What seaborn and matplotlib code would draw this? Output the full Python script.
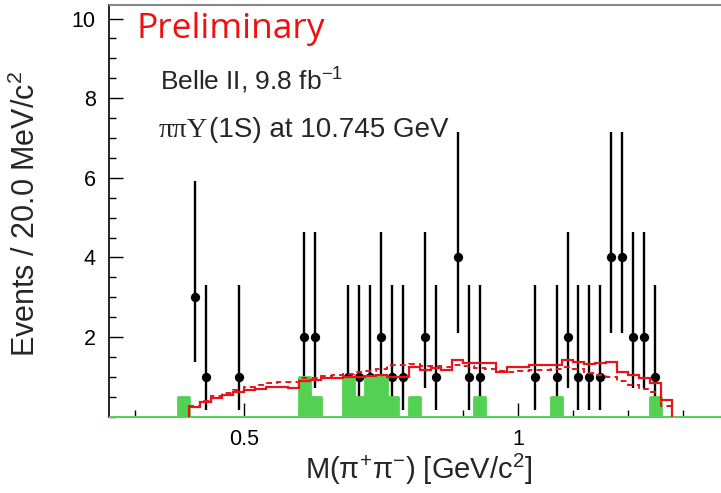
import numpy as np
import pandas as pd
import matplotlib
matplotlib.use("Agg")
import matplotlib.pyplot as plt
from matplotlib.ticker import MultipleLocator, FixedLocator, FixedFormatter
import seaborn as sns

# ---------------- data ----------------
BIN_W = 0.02
# data points: bin centres [GeV/c^2] and counts
pt_x = [0.41, 0.43, 0.49, 0.61, 0.63, 0.69, 0.71, 0.73, 0.75, 0.77, 0.79,
        0.83, 0.85, 0.89, 0.91, 0.93, 1.03, 1.07, 1.09, 1.11, 1.13, 1.15,
        1.17, 1.19, 1.21, 1.23, 1.25]
pt_n = [3, 1, 1, 2, 2, 1, 1, 1, 2, 1, 1,
        2, 1, 4, 1, 1, 1, 1, 2, 1, 1, 1,
        4, 4, 2, 2, 1]
# asymmetric Poisson intervals, per count
err_lo_by_n = {1: 0.83, 2: 1.29, 3: 1.63, 4: 1.91}
err_hi_by_n = {1: 2.30, 2: 2.64, 3: 2.92, 4: 3.16}

# green (sideband) histogram: bin centres and contents
green_x = [0.39, 0.61, 0.63, 0.69, 0.71, 0.73, 0.75, 0.77, 0.81, 0.93, 1.07, 1.25]
green_v = [0.5, 1.0, 0.5, 1.0, 0.5, 1.0, 1.0, 0.5, 0.5, 0.5, 0.5, 0.5]
green_range = (0.24, 1.40)

# red curves: 44 bins from 0.40 to 1.28
red_start = 0.40
red_solid = [0.24, 0.37, 0.47, 0.55, 0.61, 0.66, 0.70, 0.74, 0.75, 0.72,
             0.90, 0.93, 0.96, 0.98, 0.99, 1.00, 1.02, 1.04, 1.00, 1.00,
             1.26, 1.17, 1.23, 1.17, 1.42, 1.34, 1.34, 1.34, 1.13, 1.26,
             1.26, 1.30, 1.30, 1.30, 1.42, 1.38, 1.32, 1.34, 1.38, 1.13,
             1.05, 0.97, 0.84, 0.42]
red_dash = [0.26, 0.40, 0.52, 0.60, 0.67, 0.74, 0.80, 0.84, 0.87, 0.86,
            0.96, 0.98, 1.02, 1.05, 1.08, 1.12, 1.16, 1.20, 1.30, 1.30,
            1.33, 1.28, 1.28, 1.25, 1.30, 1.28, 1.22, 1.20, 1.15, 1.12,
            1.15, 1.17, 1.17, 1.20, 1.24, 1.20, 1.10, 1.05, 1.00, 0.90,
            0.80, 0.70, 0.62, 0.28]

x_major = [0.5, 1.0]
x_major_labels = ["0.5", "1"]
y_major = [2, 4, 6, 8, 10]
y_major_labels = ["2", "4", "6", "8", "10"]

# ---------------- figure ----------------
W, H = 721, 493
sns.set_theme(style="white")
plt.rcParams["font.family"] = ["Liberation Sans", "DejaVu Sans"]
plt.rcParams["mathtext.fontset"] = "custom"
plt.rcParams["mathtext.rm"] = "Liberation Sans"
plt.rcParams["mathtext.it"] = "Liberation Sans"
plt.rcParams["mathtext.sf"] = "Liberation Sans"

fig = plt.figure(figsize=(W / 100, H / 100), dpi=100)
fig.patch.set_facecolor("white")
ax = fig.add_axes([109.5 / W, (H - 416.7) / H, 1 - 109.5 / W, (416.7 - 5) / H])
ax.set_facecolor("white")

# data points with error bars
n_arr = np.array(pt_n)
lo = np.array([err_lo_by_n[n] for n in pt_n])
hi = np.array([err_hi_by_n[n] for n in pt_n])
ax.errorbar(pt_x, n_arr, yerr=[lo, hi], fmt="none", ecolor="black",
            elinewidth=1.7, capsize=0, zorder=2)
sns.scatterplot(x=pt_x, y=pt_n, ax=ax, color="black", s=45, edgecolor="black",
                linewidth=0, zorder=2.5, legend=False)

# green histogram (full range, zeros elsewhere)
g_edges = np.round(np.arange(green_range[0], green_range[1] + 1e-9, BIN_W), 4)
g_centres = g_edges[:-1] + BIN_W / 2
g_vals = np.zeros(len(g_centres))
for cx, v in zip(green_x, green_v):
    g_vals[np.argmin(np.abs(g_centres - cx))] = v
green_df = pd.DataFrame({"m": g_centres, "w": g_vals})
sns.histplot(data=green_df, x="m", weights="w", bins=g_edges.tolist(),
             element="step", fill=True, color="#52D152", alpha=1.0,
             linewidth=2.0, ax=ax, zorder=3)

# red histograms (step outlines closed down to zero at both ends)
r_edges = np.round(red_start + BIN_W * np.arange(len(red_solid) + 1), 4)
ax.stairs(red_dash, r_edges, baseline=0, fill=False, color="#E8141C",
          linewidth=1.4, linestyle=(0, (3, 2.2)), zorder=4)
ax.stairs(red_solid, r_edges, baseline=0, fill=False, color="#E8141C",
          linewidth=1.6, zorder=4.2)

# axes ranges
ax.set_xlim(0.2543, 1.370)
ax.set_ylim(0, 10.34)
ax.set_xlabel("")
ax.set_ylabel("")

ax.xaxis.set_major_locator(FixedLocator(x_major))
ax.xaxis.set_major_formatter(FixedFormatter(x_major_labels))
ax.xaxis.set_minor_locator(MultipleLocator(0.1))
ax.yaxis.set_major_locator(FixedLocator(y_major))
ax.yaxis.set_major_formatter(FixedFormatter(y_major_labels))
ax.yaxis.set_minor_locator(MultipleLocator(0.5))
ax.tick_params(axis="both", which="both", direction="in", colors="black",
               labelsize=15.5)
ax.tick_params(axis="both", which="major", length=10, width=1.0)
ax.tick_params(axis="both", which="minor", length=5, width=1.0)
ax.tick_params(axis="x", which="both", bottom=True, top=False, pad=9)
ax.tick_params(axis="y", which="both", left=True, right=False, pad=10)

for s in ["left", "bottom"]:
    ax.spines[s].set_color("black")
    ax.spines[s].set_linewidth(1.2)
ax.spines["top"].set_color("#888888")
ax.spines["top"].set_linewidth(1.5)
ax.spines["right"].set_visible(False)

def px(x, y):
    return x / W, 1 - y / H

# axis titles
fig.text(*px(419, 479), r"M($\mathrm{\pi}^{+}\mathrm{\pi}^{-}$) [GeV/c$^{2}$]",
         ha="center", va="baseline", fontsize=21)
fig.text(*px(26, 214), r"Events / 20.0 MeV/c$^{2}$", rotation=90,
         ha="center", va="center", fontsize=22)

# annotations
fig.text(*px(137, 38), "Preliminary", color="#F01010", fontsize=25.5,
         family=["Open Sans", "DejaVu Sans"], ha="left", va="baseline")
fig.text(*px(160, 90), r"Belle II, 9.8 fb$^{-1}$", fontsize=19,
         ha="left", va="baseline")
t1 = fig.text(*px(159, 137), "ππΥ", fontsize=20.5,
              family=["Liberation Serif", "DejaVu Serif"], ha="left",
              va="baseline")
ax.annotate("(1S) at 10.745 GeV", xy=(1.0, 0.0), xycoords=t1,
            xytext=(0.5, 0), textcoords="offset points", fontsize=20,
            ha="left", va="bottom", annotation_clip=False)

fig.savefig("out.png", dpi=100, facecolor="white")
